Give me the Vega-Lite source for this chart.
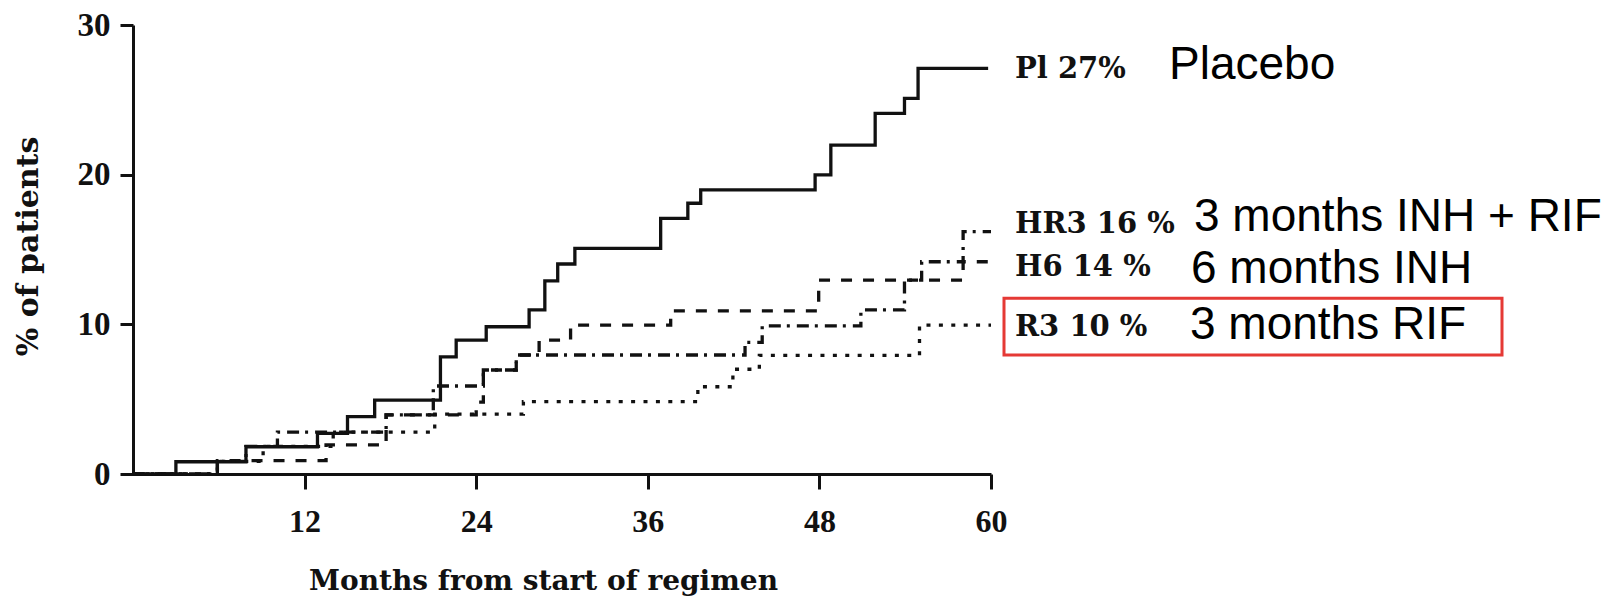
{
  "$schema": "https://vega.github.io/schema/vega-lite/v6.json",
  "width": 858,
  "height": 449,
  "autosize": {"type": "none"},
  "padding": {"left": 133, "top": 25, "right": 633, "bottom": 126},
  "background": "white",
  "config": {"view": {"stroke": null}},
  "datasets": {
    "curves": [
      {"series": "Placebo", "month": 0, "pct": 0},
      {"series": "Placebo", "month": 3, "pct": 0.82},
      {"series": "Placebo", "month": 7.9, "pct": 1.82},
      {"series": "Placebo", "month": 12.9, "pct": 2.72},
      {"series": "Placebo", "month": 15, "pct": 3.83},
      {"series": "Placebo", "month": 16.9, "pct": 4.94},
      {"series": "Placebo", "month": 21.5, "pct": 7.82},
      {"series": "Placebo", "month": 22.6, "pct": 8.95},
      {"series": "Placebo", "month": 24.7, "pct": 9.84},
      {"series": "Placebo", "month": 27.7, "pct": 10.96},
      {"series": "Placebo", "month": 28.8, "pct": 12.9},
      {"series": "Placebo", "month": 29.7, "pct": 14.03},
      {"series": "Placebo", "month": 30.9, "pct": 15.08},
      {"series": "Placebo", "month": 36.9, "pct": 17.08},
      {"series": "Placebo", "month": 38.8, "pct": 18.09},
      {"series": "Placebo", "month": 39.7, "pct": 18.98},
      {"series": "Placebo", "month": 47.7, "pct": 19.98},
      {"series": "Placebo", "month": 48.8, "pct": 21.98},
      {"series": "Placebo", "month": 51.9, "pct": 24.1},
      {"series": "Placebo", "month": 53.95, "pct": 25.1},
      {"series": "Placebo", "month": 54.9, "pct": 27.1},
      {"series": "Placebo", "month": 59.8, "pct": 27.1},

      {"series": "HR3", "month": 0, "pct": 0},
      {"series": "HR3", "month": 5.9, "pct": 0.85},
      {"series": "HR3", "month": 7.9, "pct": 1.85},
      {"series": "HR3", "month": 10.1, "pct": 2.8},
      {"series": "HR3", "month": 17.7, "pct": 3.95},
      {"series": "HR3", "month": 21, "pct": 5.88},
      {"series": "HR3", "month": 24.5, "pct": 6.95},
      {"series": "HR3", "month": 26.8, "pct": 7.95},
      {"series": "HR3", "month": 42.8, "pct": 8.8},
      {"series": "HR3", "month": 44.0, "pct": 9.9},
      {"series": "HR3", "month": 50.9, "pct": 10.96},
      {"series": "HR3", "month": 53.95, "pct": 12.96},
      {"series": "HR3", "month": 55.15, "pct": 14.18},
      {"series": "HR3", "month": 58.05, "pct": 16.19},
      {"series": "HR3", "month": 60, "pct": 16.19},

      {"series": "H6", "month": 0, "pct": 0},
      {"series": "H6", "month": 5.9, "pct": 0.9},
      {"series": "H6", "month": 13.5, "pct": 1.94},
      {"series": "H6", "month": 17.7, "pct": 3.95},
      {"series": "H6", "month": 24.0, "pct": 4.8},
      {"series": "H6", "month": 24.5, "pct": 6.95},
      {"series": "H6", "month": 26.8, "pct": 7.95},
      {"series": "H6", "month": 28.4, "pct": 8.95},
      {"series": "H6", "month": 30.6, "pct": 9.95},
      {"series": "H6", "month": 37.6, "pct": 10.9},
      {"series": "H6", "month": 47.95, "pct": 12.96},
      {"series": "H6", "month": 58.05, "pct": 14.18},
      {"series": "H6", "month": 60, "pct": 14.18},

      {"series": "R3", "month": 0, "pct": 0},
      {"series": "R3", "month": 5.9, "pct": 0.85},
      {"series": "R3", "month": 9.1, "pct": 1.85},
      {"series": "R3", "month": 14.0, "pct": 2.8},
      {"series": "R3", "month": 21.1, "pct": 4.0},
      {"series": "R3", "month": 27.3, "pct": 4.83},
      {"series": "R3", "month": 39.5, "pct": 5.83},
      {"series": "R3", "month": 41.95, "pct": 7.0},
      {"series": "R3", "month": 43.8, "pct": 7.92},
      {"series": "R3", "month": 55.0, "pct": 9.95},
      {"series": "R3", "month": 60, "pct": 9.95}
    ],
    "labels": [
      {"code": "Pl 27%", "desc": "Placebo", "month": 60, "pct": 27.06},
      {"code": "HR3 16 %", "desc": "3 months INH + RIF", "month": 60, "pct": 16.7},
      {"code": "H6 14 %", "desc": "6 months INH", "month": 60, "pct": 13.85},
      {"code": "R3 10 %", "desc": "3 months RIF", "month": 60, "pct": 9.84}
    ]
  },
  "encoding": {
    "x": {
      "field": "month",
      "type": "quantitative",
      "scale": {"domain": [0, 60], "nice": false, "zero": true},
      "axis": {
        "values": [12, 24, 36, 48, 60],
        "title": "Months from start of regimen",
        "grid": false,
        "domainWidth": 3,
        "domainColor": "#111",
        "tickWidth": 3,
        "tickSize": 15,
        "tickColor": "#111",
        "labelFlush": false,
        "labelFont": "Liberation Serif",
        "labelFontWeight": "bold",
        "labelFontSize": 32,
        "labelColor": "#111",
        "labelPadding": 17,
        "titleFont": "DejaVu Serif",
        "titleFontWeight": "bold",
        "titleFontSize": 28,
        "titleColor": "#111",
        "titleX": 410,
        "titleY": 115,
        "titleBaseline": "alphabetic"
      }
    },
    "y": {
      "field": "pct",
      "type": "quantitative",
      "scale": {"domain": [0, 30], "nice": false},
      "axis": {
        "values": [0, 10, 20, 30],
        "title": "% of patients",
        "grid": false,
        "domainWidth": 3,
        "domainColor": "#111",
        "tickWidth": 3,
        "tickSize": 13,
        "tickColor": "#111",
        "labelFlush": false,
        "labelFont": "Liberation Serif",
        "labelFontWeight": "bold",
        "labelFontSize": 33,
        "labelColor": "#111",
        "labelPadding": 10,
        "titleFont": "DejaVu Serif",
        "titleFontWeight": "bold",
        "titleFontSize": 30,
        "titleColor": "#111",
        "titleAngle": 270,
        "titleX": -105,
        "titleY": 221,
        "titleBaseline": "middle"
      }
    }
  },
  "layer": [
    {
      "data": {"name": "curves"},
      "mark": {"type": "line", "interpolate": "step-after", "strokeWidth": 3.3, "color": "#111"},
      "encoding": {
        "strokeDash": {
          "field": "series",
          "type": "nominal",
          "scale": {
            "domain": ["Placebo", "HR3", "H6", "R3"],
            "range": [[1, 0], [12, 6, 3, 7], [11, 11], [4, 8.4]]
          },
          "legend": null
        }
      }
    },
    {
      "data": {"name": "labels"},
      "mark": {"type": "text", "align": "left", "baseline": "middle", "dx": 24, "font": "DejaVu Serif", "fontWeight": "bold", "fontSize": 29, "color": "#111"},
      "encoding": {"text": {"field": "code"}}
    },
    {
      "data": {"name": "labels"},
      "transform": [{"filter": "datum.desc == 'Placebo'"}],
      "mark": {"type": "text", "align": "left", "baseline": "middle", "dx": 178, "dy": -4, "font": "Liberation Sans", "fontSize": 46, "color": "#000"},
      "encoding": {"text": {"field": "desc"}}
    },
    {
      "data": {"name": "labels"},
      "transform": [{"filter": "datum.desc == '3 months INH + RIF'"}],
      "mark": {"type": "text", "align": "left", "baseline": "middle", "dx": 203, "dy": -7, "font": "Liberation Sans", "fontSize": 46, "color": "#000"},
      "encoding": {"text": {"field": "desc"}}
    },
    {
      "data": {"name": "labels"},
      "transform": [{"filter": "datum.desc == '6 months INH'"}],
      "mark": {"type": "text", "align": "left", "baseline": "middle", "dx": 200, "dy": 2, "font": "Liberation Sans", "fontSize": 46, "color": "#000"},
      "encoding": {"text": {"field": "desc"}}
    },
    {
      "data": {"name": "labels"},
      "transform": [{"filter": "datum.desc == '3 months RIF'"}],
      "mark": {"type": "text", "align": "left", "baseline": "middle", "dx": 199, "dy": -2, "font": "Liberation Sans", "fontSize": 46, "color": "#000"},
      "encoding": {"text": {"field": "desc"}}
    },
    {
      "data": {"name": "labels"},
      "transform": [{"filter": "datum.code == 'R3 10 %'"}],
      "mark": {"type": "rect", "filled": false, "color": "#e53935", "strokeWidth": 3, "xOffset": 13, "x2Offset": 511, "yOffset": -28.4, "y2Offset": 28.3},
      "encoding": {"x2": {"field": "month"}, "y2": {"field": "pct"}}
    }
  ]
}
